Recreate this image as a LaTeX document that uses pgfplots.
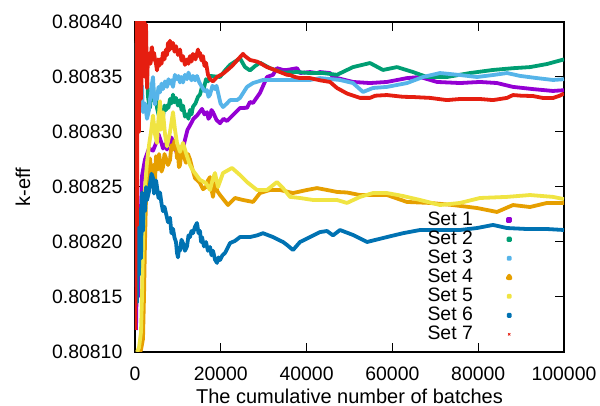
\documentclass[border=0pt]{standalone}
\usepackage{fontspec}
\setmainfont{Liberation Sans}
\usepackage{pgfplots}
\pgfplotsset{compat=1.18}
\definecolor{c1}{HTML}{9400D3}
\definecolor{c2}{HTML}{009E73}
\definecolor{c3}{HTML}{56B4E9}
\definecolor{c4}{HTML}{E69F00}
\definecolor{c5}{HTML}{F0E442}
\definecolor{c6}{HTML}{0072B2}
\definecolor{c7}{HTML}{E51E10}
\newcommand{\gfont}{\fontsize{9.7}{11.6}\selectfont}
% y values are k-eff offsets: k-eff = 0.808 + y * 1e-6
\begin{document}
\begin{tikzpicture}
\begin{axis}[
  scale only axis, width=214.5pt, height=165pt,
  at={(0,0)}, anchor=south west,
  xmin=0, xmax=100000, ymin=100, ymax=400,
  scaled x ticks=false, scaled y ticks=false,
  xtick={0,20000,40000,60000,80000,100000},
  xticklabels={0,20000,40000,60000,80000,100000},
  ytick={100,150,200,250,300,350,400},
  yticklabels={0.80810,0.80815,0.80820,0.80825,0.80830,0.80835,0.80840},
  tick align=inside, major tick length=4.5pt,
  every tick/.style={black, line width=0.5pt},
  axis line style={line width=0.9pt},
  ticklabel style={font=\gfont},
  xticklabel style={yshift=-3.8pt},
  yticklabel style={xshift=-2.8pt},
  xlabel={The cumulative number of batches},
  ylabel={k-eff},
  label style={font=\gfont},
  every axis x label/.style={at={(axis description cs:0.5,-0.135)},anchor=center},
  every axis y label/.style={at={(axis description cs:-0.261,0.5)},rotate=90,anchor=center},
  legend style={draw=none, fill=none, at={(1,0.429)}, anchor=north east, xshift=-26.5pt,
    font=\gfont, inner sep=0pt, column sep=17pt, row sep=0pt,
    nodes={inner sep=0.5pt, text height=6.8pt, text depth=1.7pt}},
  legend cell align=right, legend plot pos=right,
  every axis plot/.append style={line width=1.9pt, line join=round, forget plot},
]
% Set 1
\addplot[c1] coordinates {(233,120)(466,180)(699,150)(932,230)(1166,200)(1632,260)(2331,275)(3263,285)(4196,283)(5128,292)(5480,298)(5828,294)(6180,290)(6527,285)(7000,289)(7459,284)(7800,292)(8159,289)(8500,295)(8858,291)(9200,286)(9557,283)(10020,279)(10490,276)(10840,282)(11189,286)(11420,289)(11655,293)(12240,302)(12821,306)(13630,312)(14452,315)(15040,318)(15618,321)(16200,316)(16783,318)(17130,312)(17483,314)(17830,320)(18182,318)(19000,311)(19814,308)(20630,312)(21445,310)(22844,315.5)(24476,321.8)(26107,322)(26807,327.3)(27506,326.4)(29138,335.5)(30769,350)(32168,352)(33100,358)(34499,356.4)(35431,356.4)(37763,358)(38462,353.6)(40793,354.5)(42424,353.6)(43124,354.5)(45455,353.6)(46154,350)(50816,345.5)(54779,344.5)(58741,345.5)(63403,349)(66434,350)(70396,345.5)(75758,344.5)(80420,345.5)(84382,344.5)(88112,341)(92774,339)(97436,337.3)(100000,338)};
% Set 2
\addplot[c2] coordinates {(233,365)(466,385)(699,345)(932,372)(1166,355)(1399,378)(1865,362)(2331,372)(2797,352)(3030,332)(3260,326)(3497,322)(3730,334)(3963,338)(4196,341)(4550,328)(4895,334)(5130,322)(5361,318)(5600,314)(5828,311)(6180,320)(6527,314)(6870,324)(7226,320)(7459,324)(7800,322)(8159,330)(8500,326)(8858,334)(9200,327)(9557,331)(10020,324)(10490,329)(10840,320)(11189,324)(11650,314)(12121,316)(12470,312)(12821,320)(13170,316)(13520,323)(14100,326)(14685,332)(15150,334)(15618,341)(16080,340)(16550,348)(17017,346)(17483,351)(19814,350)(21000,356)(22145,361)(23310,364)(24476,367)(25641,359)(26807,356)(28000,360)(29138,363)(31469,358)(34499,354)(37763,354.5)(40793,353.6)(43823,353.6)(47086,352)(50816,359)(54779,362.7)(57800,356.4)(61072,359)(64802,354.5)(68065,350)(72727,350)(78089,353.6)(83450,356.4)(88112,358)(92075,359)(96037,361.8)(100000,366)};
% Set 3
\addplot[c3] coordinates {(117,250)(233,380)(466,345)(699,372)(932,348)(1166,366)(1399,332)(1632,342)(1865,318)(2331,326)(2797,312)(3263,320)(3500,330)(3730,335)(3960,344)(4196,350)(4430,334)(4662,325)(4900,334)(5128,330)(5480,341)(5828,336)(6180,344)(6527,339)(7000,346)(7459,341)(7800,348)(8159,344)(8500,347)(8858,341)(9300,352)(9790,348)(10140,351)(10490,345)(10840,350)(11189,345)(11650,352)(12121,348)(12470,354)(12821,350)(13170,347)(13520,351)(14000,347)(14452,351)(15000,345)(15618,341)(16200,337)(16783,338)(17130,332)(17483,334)(18060,342)(18648,339)(19000,342)(19347,336)(19930,326)(20513,322.7)(21445,326)(22145,329)(23776,329)(24476,331)(26107,341)(27506,344.5)(29837,347.3)(33100,347.3)(37763,347.3)(40793,347.3)(43124,349)(47786,347.3)(50816,344.5)(53147,336.4)(55478,340)(58741,341)(63403,344.5)(67133,350)(71096,353.6)(75758,351.8)(79720,350)(83450,351.8)(86713,353.6)(89744,351)(93707,349)(97436,347.3)(100000,348)};
% Set 4
\addplot[c4] coordinates {(117,100)(466,96)(932,98)(1399,102)(1865,112)(2098,150)(2331,200)(2564,240)(2797,265)(3030,250)(3263,268)(3497,276)(3730,266)(3963,262)(4300,270)(4662,255)(4895,278)(5128,270)(5361,266)(5600,280)(5828,274)(6180,264)(6527,268)(6870,280)(7226,276)(7700,270)(8159,274.5)(8500,288)(8858,284)(9200,292)(9557,288)(9790,276)(10023,280)(10250,268)(10490,270)(10840,284)(11189,286)(11540,276)(11888,272)(12350,280)(12821,275)(13400,266)(13986,258)(14570,256)(15152,253.6)(15850,248)(16550,250)(17000,256)(17483,259)(17830,248)(18182,241)(18420,248)(18648,253.6)(19230,246)(19814,242.7)(21678,233.6)(23310,240)(25175,238.2)(27506,236.4)(29138,244.5)(31469,247.3)(33800,247.3)(36830,244.5)(40093,247.3)(42424,249)(44755,247.3)(47086,245.5)(49417,245)(52448,242.7)(58741,242.7)(63403,236.4)(68765,235.5)(74126,233.6)(79720,230.9)(84382,227.3)(88112,233.6)(92075,231.8)(96037,235.5)(100000,235.5)};
% Set 5
\addplot[c5] coordinates {(466,100)(932,104)(1399,118)(1632,150)(1865,200)(2331,250)(2797,272)(3263,288)(3730,300)(4196,315)(4662,298)(5128,290)(5361,306)(5828,328)(6061,302)(6527,318)(6993,298)(7459,287)(8159,300)(8858,318)(9324,302)(9790,290)(10490,282)(11189,290)(12121,278)(12821,270)(13520,265)(15152,256.4)(16550,253.6)(17483,247.3)(18182,258)(18648,262.7)(19347,250)(20513,262.7)(22611,267.3)(24476,260.9)(26107,254.5)(28438,247.3)(30769,247.3)(33100,254.5)(34499,249)(36131,241)(38462,240)(41492,238.2)(44755,238.2)(47086,238.2)(49417,235.5)(52448,241)(55478,244.5)(58741,244.5)(62471,241.8)(66434,238.2)(71096,233.6)(75758,235.5)(80420,240)(86713,241)(92075,242.7)(97436,241)(100000,239)};
% Set 6
\addplot[c6] coordinates {(117,230)(233,160)(350,250)(466,145)(699,200)(932,170)(1166,230)(1399,185)(1632,245)(1865,210)(2098,240)(2331,228)(2564,250)(2797,238)(3263,246)(3497,253)(3850,262)(4196,258)(4430,244)(4662,248)(4900,256)(5128,250)(5480,240)(5828,245)(6180,235)(6527,228)(6870,232)(7226,226)(7700,218)(8159,222)(8500,208)(8858,212)(9200,204)(9557,200)(9790,190)(10023,186)(10250,194)(10490,192)(10840,202)(11189,199)(11650,192)(12121,196)(12470,206)(12821,204.5)(13170,210)(13520,208)(14000,214)(14452,217.3)(14800,208)(15152,210)(15400,200)(15618,204.5)(16080,196)(16550,200)(17000,192)(17483,195.5)(17830,188)(18182,192)(18650,184)(19114,181)(19470,186)(19814,183.6)(20400,188)(20979,190)(22145,199)(23310,201)(24476,204.5)(26807,204.5)(28438,206)(29837,208)(32168,204.5)(34499,200)(35431,197.3)(36830,192.7)(38462,200)(40793,204.5)(43124,209)(44755,210)(46154,206)(47786,210.9)(50816,206.4)(54079,200)(58741,204.5)(62471,208)(66434,210.9)(71096,210.9)(75758,210.9)(79720,212.7)(83450,215.5)(86713,212.7)(91375,211.8)(96037,211.8)(100000,210.9)};
% Set 7
\addplot[c7] coordinates {(70,120)(233,420)(350,250)(466,215)(583,380)(699,395)(816,320)(932,300)(1049,410)(1166,430)(1282,360)(1399,330)(1632,362)(1865,400)(2098,410)(2331,350)(2564,398)(2797,340)(3030,370)(3263,362)(3380,370)(3497,372)(3610,362)(3730,366)(3850,376)(3963,377)(4200,366)(4429,372)(4662,366)(4900,362)(5128,356)(5360,366)(5595,360)(5828,366)(6180,362)(6527,372)(6870,366)(7226,375)(7460,370)(7692,381)(7930,374)(8159,383)(8500,376)(8858,381)(9200,373)(9557,378)(10020,370)(10490,375)(10840,365)(11189,369)(11650,361)(12121,366)(12470,362)(12821,369)(13170,364)(13520,371)(14100,366)(14685,375)(14920,369)(15152,372)(15500,365)(15851,369)(16200,360)(16550,363)(17017,352)(17483,348)(18182,346)(19114,350)(20513,353)(21445,356)(22611,360)(23310,363)(24476,368)(25175,371)(25641,369)(26807,365.5)(28438,364)(29138,362.7)(30769,359)(31469,358)(32168,357)(33800,354.5)(35431,352)(36131,351.8)(37296,350)(38462,349)(40793,349)(43124,347)(45455,345.5)(47086,340)(49417,335)(52448,331)(54779,331)(56000,333)(58741,333.6)(62471,332)(64802,331.8)(68765,331)(72727,329)(75758,330)(78089,330)(80420,330)(83450,329)(86713,331)(88112,333.6)(90000,333)(92774,332.7)(95000,331)(97436,330.9)(99000,333)(100000,335)};
\addlegendimage{only marks, mark=square*, mark size=0.6pt, c1}
\addlegendentry{Set 1}
\addlegendimage{only marks, mark=*, mark size=0.65pt, c2}
\addlegendentry{Set 2}
\addlegendimage{only marks, mark=*, mark size=0.5pt, c3}
\addlegendentry{Set 3}
\addlegendimage{only marks, mark=triangle*, mark size=0.8pt, c4}
\addlegendentry{Set 4}
\addlegendimage{only marks, mark=*, mark size=0.5pt, c5}
\addlegendentry{Set 5}
\addlegendimage{only marks, mark=*, mark size=0.55pt, c6}
\addlegendentry{Set 6}
\addlegendimage{only marks, mark=x, mark size=0.8pt, line width=0.4pt, c7}
\addlegendentry{Set 7}
\end{axis}
\pgfresetboundingbox
\path[use as bounding box] (-67.5pt,-27pt) rectangle (232.5pt,176pt);
\end{tikzpicture}
\end{document}
